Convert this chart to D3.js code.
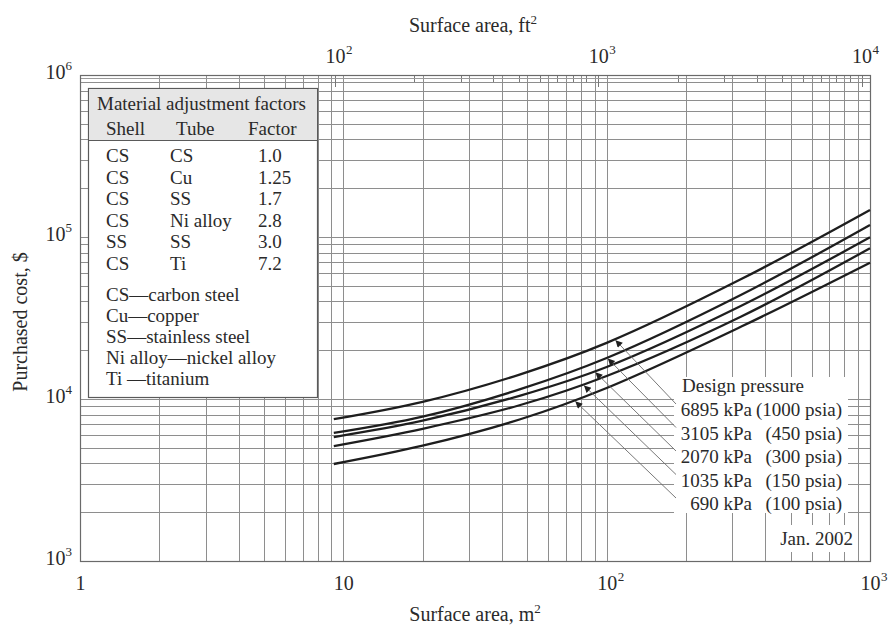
<!DOCTYPE html>
<html><head><meta charset="utf-8">
<script src="https://cdn.jsdelivr.net/npm/d3@7"></script>
<style>
body{margin:0;background:#fff}
svg{display:block}
text{font-family:"Liberation Serif","DejaVu Serif",serif;fill:#2a2a2a}
</style>
</head><body>
<svg id="c" width="890" height="626"></svg>
<script>
// ---------------- DATA ----------------
const areaM2   = [9.2, 20, 47, 100, 323, 1000];          // surface area, m^2
const cost6895 = [7500, 9600, 14200, 22200, 54800, 146800];
const cost3105 = [6170, 7780, 11500, 17900, 43850, 118600];
const cost2070 = [5825, 7345, 10500, 15770, 37500, 99600];
const cost1035 = [5126, 6550, 9180, 13870, 32200, 85200];
const cost690  = [3970, 5150, 7500, 11700, 27900, 69400];
const pressureKPa  = ["6895 kPa", "3105 kPa", "2070 kPa", "1035 kPa", "690 kPa"];
const pressurePsia = ["(1000 psia)", "(450 psia)", "(300 psia)", "(150 psia)", "(100 psia)"];
const arrowAreaM2  = [108, 101, 90.6, 82, 76];            // where each leader arrow hits its curve
const bottomTicks = [["1", ""], ["10", ""], ["10", "2"], ["10", "3"]];
const bottomTickValues = [1, 10, 100, 1000];
const topTickValues = [100, 1000, 10000];
const topTickExp = ["2", "3", "4"];
const leftTickValues = [1e3, 1e4, 1e5, 1e6];
const leftTickExp = ["3", "4", "5", "6"];
const tableTitle = "Material adjustment factors";
const tableHead = ["Shell", "Tube", "Factor"];
const tableShell = ["CS", "CS", "CS", "CS", "SS", "CS"];
const tableTube = ["CS", "Cu", "SS", "Ni alloy", "SS", "Ti"];
const tableFactor = ["1.0", "1.25", "1.7", "2.8", "3.0", "7.2"];
const abbrevs = ["CS\u2014carbon steel", "Cu\u2014copper", "SS\u2014stainless steel", "Ni alloy\u2014nickel alloy", "Ti \u2014titanium"];

const series = [cost6895, cost3105, cost2070, cost1035, cost690];
const M2_TO_FT2 = 10.7639;

// ---------------- LAYOUT ----------------
const svg = d3.select("#c");
const L = 80, R = 870, T = 75, B = 561;
const x = d3.scaleLog().domain([1, 1000]).range([L, R]);
const xFt = d3.scaleLog().domain([M2_TO_FT2, 1000 * M2_TO_FT2]).range([L, R]);
const y = d3.scaleLog().domain([1e3, 1e6]).range([B, T]);

const gridColor = "#8e8e8e";
function minorVals(lo, hi) {
  const v = [];
  for (let d = lo; d < hi; d *= 10) for (let k = 1; k <= 9; k++) v.push(d * k);
  v.push(hi);
  return v;
}
const px = v => Math.round(v) + 0.5;

// grid
const grid = svg.append("g");
grid.selectAll("line.v").data(minorVals(1, 1000)).join("line")
  .attr("x1", d => px(x(d))).attr("x2", d => px(x(d)))
  .attr("y1", T).attr("y2", B)
  .attr("stroke", gridColor).attr("stroke-width", 1);
grid.selectAll("line.h").data(minorVals(1e3, 1e6)).join("line")
  .attr("y1", d => px(y(d))).attr("y2", d => px(y(d)))
  .attr("x1", L).attr("x2", R)
  .attr("stroke", gridColor).attr("stroke-width", 1);

// top ft2 ticks (inward)
const ftMinor = minorVals(100, 10000).filter(v => xFt(v) <= R);
svg.append("g").selectAll("line").data(ftMinor).join("line")
  .attr("x1", d => px(xFt(d))).attr("x2", d => px(xFt(d)))
  .attr("y1", T).attr("y2", d => topTickValues.includes(d) ? T + 12 : T + 7)
  .attr("stroke", "#777").attr("stroke-width", 1);
svg.append("line").attr("x1", L).attr("x2", R).attr("y1", T + 3.5).attr("y2", T + 3.5)
  .attr("stroke", "#9a9a9a").attr("stroke-width", 1);

// frame
svg.append("rect").attr("x", L + 0.5).attr("y", T + 0.5).attr("width", R - L).attr("height", B - T)
  .attr("fill", "none").attr("stroke", "#6a6a6a").attr("stroke-width", 1.2);

// ---------------- AXES ----------------
function styleAxis(g) { g.select(".domain").remove(); g.selectAll(".tick line").remove(); }

// bottom (m2)
const gB = svg.append("g").attr("transform", `translate(0,${B})`)
  .call(d3.axisBottom(x).tickValues(bottomTickValues).tickSize(0).tickFormat(() => ""));
styleAxis(gB);
gB.selectAll(".tick").each(function(d, i) {
  const g = d3.select(this);
  g.select("text").remove();
  const t = g.append("text").attr("y", 29).attr("text-anchor", "middle")
    .style("font-size", "20px").text(bottomTicks[i][0]);
  if (bottomTicks[i][1]) {
    const w = t.node().getComputedTextLength();
    g.append("text").attr("x", w / 2 + 0.5).attr("y", 20).attr("text-anchor", "start")
      .style("font-size", "13px").text(bottomTicks[i][1]);
  }
});

// top (ft2)
const gT = svg.append("g").attr("transform", `translate(0,${T})`)
  .call(d3.axisTop(xFt).tickValues(topTickValues).tickSize(0).tickFormat(() => ""));
styleAxis(gT);
gT.selectAll(".tick").each(function(d, i) {
  const g = d3.select(this);
  g.select("text").remove();
  const t = g.append("text").attr("y", -12).attr("text-anchor", "middle")
    .style("font-size", "20px").text("10");
  const w = t.node().getComputedTextLength();
  g.append("text").attr("x", w / 2 + 0.5).attr("y", -21).attr("text-anchor", "start")
    .style("font-size", "13px").text(topTickExp[i]);
});

// left ($)
const gL = svg.append("g").attr("transform", `translate(${L},0)`)
  .call(d3.axisLeft(y).tickValues(leftTickValues).tickSize(0).tickFormat(() => ""));
styleAxis(gL);
gL.selectAll(".tick").each(function(d, i) {
  const g = d3.select(this);
  g.select("text").remove();
  const t = g.append("text").attr("x", -8).attr("y", 3).attr("text-anchor", "end").style("font-size", "20px");
  t.append("tspan").text("10");
  t.append("tspan").attr("dy", -9).style("font-size", "13px").text(leftTickExp[i]);
});

// axis titles
const tTop = svg.append("text").attr("x", 473).attr("y", 32).attr("text-anchor", "middle").style("font-size", "20px");
tTop.append("tspan").text("Surface area, ft");
tTop.append("tspan").attr("dy", -8).style("font-size", "13px").text("2");
const tBot = svg.append("text").attr("x", 475).attr("y", 621).attr("text-anchor", "middle").style("font-size", "20px");
tBot.append("tspan").text("Surface area, m");
tBot.append("tspan").attr("dy", -8).style("font-size", "13px").text("2");
svg.append("text").attr("transform", "translate(27,322) rotate(-90)").attr("text-anchor", "middle")
  .style("font-size", "20px").text("Purchased cost, $");

// ---------------- CURVES ----------------
const line = d3.line().x(d => x(d[0])).y(d => y(d[1])).curve(d3.curveCatmullRom.alpha(0.5));
const paths = series.map(s => svg.append("path")
  .datum(areaM2.map((a, i) => [a, s[i]]))
  .attr("d", line).attr("fill", "none").attr("stroke", "#1e1e1e").attr("stroke-width", 2.3).node());

function yAtX(path, X) {
  let lo = 0, hi = path.getTotalLength();
  for (let k = 0; k < 40; k++) {
    const m = (lo + hi) / 2;
    if (path.getPointAtLength(m).x < X) lo = m; else hi = m;
  }
  return path.getPointAtLength(lo).y;
}

// ---------------- LABELS (design pressure) ----------------
svg.append("rect").attr("x", 674).attr("y", 377).attr("width", 174).attr("height", 136).attr("fill", "#fff");
svg.append("rect").attr("x", 776).attr("y", 525).attr("width", 81).attr("height", 27).attr("fill", "#fff");

const defs = svg.append("defs");
defs.append("marker").attr("id", "ah").attr("viewBox", "0 0 10 10").attr("refX", 10).attr("refY", 5)
  .attr("markerWidth", 10).attr("markerHeight", 7).attr("markerUnits", "userSpaceOnUse").attr("orient", "auto")
  .append("path").attr("d", "M0,0L10,5L0,10z").attr("fill", "#1e1e1e");

svg.append("text").attr("x", 682).attr("y", 392).style("font-size", "19px").text("Design pressure");
const baseY0 = 416, dyRow = 23.5;
pressureKPa.forEach((k, i) => {
  const by = baseY0 + i * dyRow;
  svg.append("text").attr("x", 752).attr("y", by).attr("text-anchor", "end").style("font-size", "19px").text(k);
  svg.append("text").attr("x", 842).attr("y", by).attr("text-anchor", "end").style("font-size", "19px").text(pressurePsia[i]);
  const tx = x(arrowAreaM2[i]);
  const ty = yAtX(paths[i], tx);
  svg.append("line").attr("x1", 676).attr("y1", by - 12).attr("x2", tx).attr("y2", ty + 1)
    .attr("stroke", "#6a6a6a").attr("stroke-width", 0.9).attr("marker-end", "url(#ah)");
});
svg.append("text").attr("x", 853).attr("y", 545).attr("text-anchor", "end").style("font-size", "19px").text("Jan. 2002");

// ---------------- TABLE ----------------
const tb = svg.append("g");
tb.append("rect").attr("x", 88.5).attr("y", 88.5).attr("width", 229).attr("height", 309)
  .attr("fill", "#fff").attr("stroke", "#5a5a5a").attr("stroke-width", 1.2);
tb.append("rect").attr("x", 89).attr("y", 89).attr("width", 228).attr("height", 51).attr("fill", "#e6e6e6");
tb.append("line").attr("x1", 88.5).attr("x2", 317.5).attr("y1", 140.5).attr("y2", 140.5).attr("stroke", "#5a5a5a").attr("stroke-width", 1.2);
tb.append("text").attr("x", 97).attr("y", 110).style("font-size", "19px").text(tableTitle);
const colX = [106, 176, 248];
tableHead.forEach((h, i) => tb.append("text").attr("x", colX[i]).attr("y", 135).style("font-size", "19px").text(h));
const rowY0 = 162, rowDy = 21.6;
tableShell.forEach((s, i) => {
  const yy = rowY0 + i * rowDy;
  tb.append("text").attr("x", 106).attr("y", yy).style("font-size", "19px").text(s);
  tb.append("text").attr("x", 170).attr("y", yy).style("font-size", "19px").text(tableTube[i]);
  tb.append("text").attr("x", 258).attr("y", yy).style("font-size", "19px").text(tableFactor[i]);
});
abbrevs.forEach((a, i) => tb.append("text").attr("x", 106).attr("y", 301 + i * 21).style("font-size", "19px").text(a));
</script>
</body></html>
